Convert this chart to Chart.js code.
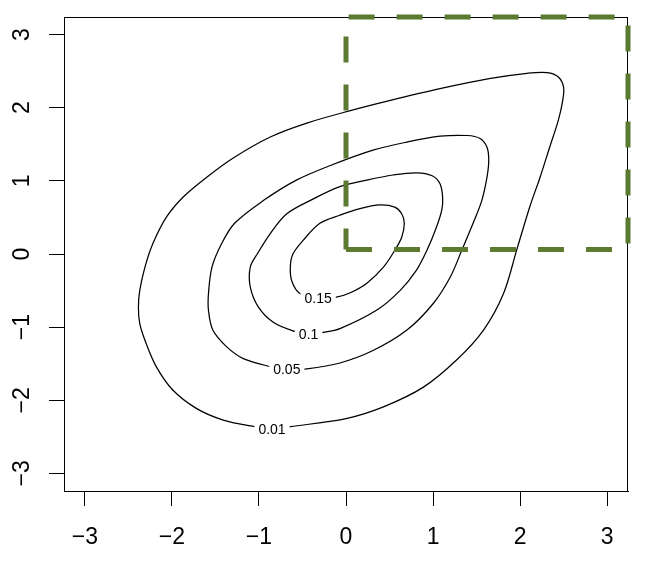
<!DOCTYPE html>
<html>
<head>
<meta charset="utf-8">
<script src="https://cdn.jsdelivr.net/npm/chart.js@4/dist/chart.umd.min.js"></script>
<style>
  body { margin: 0; background: #fff; }
</style>
</head>
<body>
<canvas id="myChart" width="668" height="573"></canvas>
<script>
// tick labels
const xTicks = [-3, -2, -1, 0, 1, 2, 3];
const yTicks = [-3, -2, -1, 0, 1, 2, 3];

// contour lines as [x, y]; each starts and ends at its label
const contour001 = [[-0.85,-2.39],[-0.64,-2.36],[0.00,-2.25],[0.43,-2.09],[0.89,-1.82],[1.27,-1.45],[1.58,-1.04],[1.81,-0.54],[1.96,0.05],[2.11,0.64],[2.23,1.05],[2.34,1.46],[2.44,1.83],[2.49,2.10],[2.50,2.28],[2.44,2.42],[2.31,2.48],[2.08,2.47],[1.66,2.40],[1.08,2.26],[0.51,2.10],[0.05,1.96],[-0.45,1.79],[-0.87,1.60],[-1.30,1.31],[-1.60,1.05],[-1.87,0.78],[-2.06,0.51],[-2.22,0.14],[-2.31,-0.18],[-2.37,-0.50],[-2.385,-0.73],[-2.37,-0.95],[-2.31,-1.18],[-2.18,-1.54],[-1.99,-1.86],[-1.72,-2.11],[-1.41,-2.27],[-1.05,-2.36],[-0.85,-2.39]];
const contour005 = [[-0.68,-1.58],[-0.45,-1.57],[-0.07,-1.49],[0.31,-1.32],[0.70,-1.04],[1.00,-0.68],[1.20,-0.31],[1.33,0.05],[1.46,0.42],[1.56,0.73],[1.62,1.05],[1.64,1.28],[1.62,1.46],[1.54,1.58],[1.39,1.62],[1.08,1.61],[0.70,1.53],[0.31,1.42],[-0.18,1.21],[-0.57,1.01],[-0.95,0.73],[-1.28,0.42],[-1.43,0.14],[-1.54,-0.18],[-1.58,-0.54],[-1.58,-0.77],[-1.53,-1.04],[-1.37,-1.27],[-1.18,-1.43],[-0.87,-1.54],[-0.68,-1.58]];
const contour010 = [[-0.43,-1.09],[-0.26,-1.07],[-0.07,-1.02],[0.35,-0.77],[0.62,-0.50],[0.81,-0.22],[0.93,0.05],[1.04,0.37],[1.10,0.60],[1.11,0.78],[1.08,0.96],[0.99,1.07],[0.81,1.11],[0.54,1.08],[0.24,1.01],[-0.07,0.92],[-0.38,0.75],[-0.68,0.55],[-0.87,0.28],[-1.02,0.00],[-1.10,-0.18],[-1.10,-0.45],[-1.01,-0.72],[-0.84,-0.93],[-0.61,-1.05],[-0.43,-1.09]];
const contour015 = [[-0.32,-0.61],[-0.11,-0.59],[0.05,-0.53],[0.24,-0.40],[0.43,-0.18],[0.56,0.05],[0.64,0.23],[0.67,0.42],[0.64,0.55],[0.56,0.64],[0.39,0.67],[0.16,0.62],[-0.07,0.53],[-0.30,0.42],[-0.49,0.19],[-0.61,0.00],[-0.64,-0.18],[-0.62,-0.38],[-0.53,-0.54],[-0.32,-0.61]];

// contour labels
const labelText = ['0.01', '0.05', '0.1', '0.15'];
const labelX = [-0.85, -0.68, -0.43, -0.32];
const labelY = [-2.39, -1.58, -1.09, -0.61];

// dashed region x > 0, y > 0
const regionX = [0, 3.24, 3.24, 0, 0];
const regionY = [0.06, 0.06, 3.24, 3.24, 0.06];

const FONT = "'Liberation Sans', Arial, Helvetica, sans-serif";
const fmt = v => String(v).replace('-', '\u2212');
const toPts = arr => arr.map(p => ({ x: p[0], y: p[1] }));

const contourSet = (pts) => ({
    data: toPts(pts),
    showLine: true,
    borderColor: '#000',
    borderWidth: 1.25,
    pointRadius: 0,
    tension: 0.33,
    order: 1
});

// box round the plot region
const boxPlugin = {
    id: 'box',
    beforeDatasetsDraw(chart) {
        const a = chart.chartArea, c = chart.ctx;
        c.save();
        c.strokeStyle = '#000';
        c.lineWidth = 1;
        c.strokeRect(a.left + 0.5, a.top + 0.5, a.right - a.left - 1, a.bottom - a.top);
        c.restore();
    }
};

// contour labels with a white gap
const labelPlugin = {
    id: 'contourLabels',
    afterDatasetsDraw(chart) {
        const c = chart.ctx, sx = chart.scales.x, sy = chart.scales.y;
        c.save();
        c.font = '14px ' + FONT;
        c.textAlign = 'center';
        c.textBaseline = 'middle';
        labelText.forEach((t, i) => {
            const px = sx.getPixelForValue(labelX[i]);
            const py = sy.getPixelForValue(labelY[i]);
            const w = c.measureText(t).width + 8;
            c.fillStyle = '#fff';
            c.fillRect(px - w / 2, py - 7, w, 14);
            c.fillStyle = '#000';
            c.fillText(t, px, py + 1);
        });
        c.restore();
    }
};

const ctx = document.getElementById('myChart').getContext('2d');
const myChart = new Chart(ctx, {
    type: 'scatter',
    data: {
        datasets: [
            {
                data: regionX.map((x, i) => ({ x: x, y: regionY[i] })),
                showLine: true,
                borderColor: '#5b7b30',
                borderWidth: 5,
                borderDash: [26, 22],
                pointRadius: 0,
                tension: 0,
                clip: false,
                order: 0
            },
            contourSet(contour001),
            contourSet(contour005),
            contourSet(contour010),
            contourSet(contour015)
        ]
    },
    options: {
        responsive: false,
        animation: false,
        layout: { padding: { top: 17, right: 40, left: 0, bottom: 0 } },
        plugins: { legend: { display: false }, tooltip: { enabled: false } },
        scales: {
            x: {
                type: 'linear',
                min: -3.24,
                max: 3.24,
                afterBuildTicks: s => { s.ticks = xTicks.map(v => ({ value: v })); },
                afterFit: s => { s.height = 82; s.paddingLeft = 0; s.paddingRight = 0; },
                grid: { drawOnChartArea: false, drawTicks: true, tickLength: 15, color: '#000', lineWidth: 1 },
                border: { display: true, color: '#000', width: 1 },
                ticks: { color: '#000', font: { family: FONT, size: 23 }, padding: 18, maxRotation: 0, autoSkip: false, callback: fmt }
            },
            y: {
                type: 'linear',
                min: -3.24,
                max: 3.24,
                afterBuildTicks: s => { s.ticks = yTicks.map(v => ({ value: v })); },
                afterFit: s => { s.width = 64; s.paddingTop = 0; s.paddingBottom = 0; },
                grid: { drawOnChartArea: false, drawTicks: true, tickLength: 15, color: '#000', lineWidth: 1 },
                border: { display: true, color: '#000', width: 1 },
                ticks: { color: '#000', font: { family: FONT, size: 23 }, padding: 13, minRotation: 90, maxRotation: 90, crossAlign: 'center', autoSkip: false, callback: fmt }
            }
        }
    },
    plugins: [boxPlugin, labelPlugin]
});
</script>
</body>
</html>
